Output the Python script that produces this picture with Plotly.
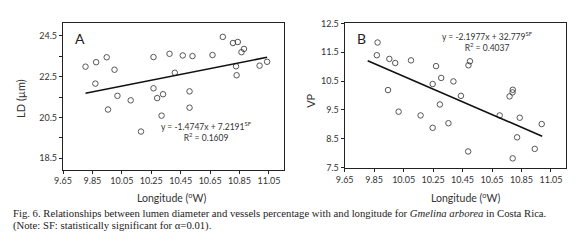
import plotly.graph_objects as go

# ---- data ----
a_lon = [9.803, 9.870, 9.875, 9.947, 9.956, 10.000, 10.020, 10.110, 10.180, 10.265,
         10.265, 10.290, 10.330, 10.320, 10.374, 10.410, 10.464, 10.530, 10.510, 10.510,
         10.666, 10.736, 10.805, 10.838, 10.863, 10.880, 10.826, 10.830, 10.986, 11.037]
a_ld = [22.99, 22.16, 23.21, 23.45, 20.89, 22.84, 21.56, 21.34, 19.81, 23.46,
        21.93, 21.45, 21.64, 20.59, 23.62, 22.69, 23.54, 23.51, 21.78, 20.98,
        23.56, 24.45, 24.15, 24.20, 23.70, 23.86, 23.01, 22.57, 23.04, 23.23]
a_trend_x = [9.803, 11.037]
a_trend_y = [21.69, 23.45]

b_lon = [9.873, 9.868, 9.953, 9.993, 9.944, 10.016, 10.100, 10.165, 10.270, 10.247,
         10.247, 10.305, 10.296, 10.354, 10.388, 10.439, 10.490, 10.500, 10.488, 10.702,
         10.769, 10.789, 10.791, 10.790, 10.820, 10.838, 10.940, 10.987]
b_vp = [11.84, 11.40, 11.27, 11.13, 10.19, 9.44, 11.22, 9.31, 11.02, 10.40,
        8.88, 10.61, 9.69, 9.04, 10.49, 9.99, 11.05, 11.19, 8.06, 9.31,
        9.97, 10.11, 10.20, 7.82, 8.55, 9.23, 8.15, 9.01]
b_trend_x = [9.806, 10.990]
b_trend_y = [11.21, 8.59]

x_ticks = [9.65, 9.85, 10.05, 10.25, 10.45, 10.65, 10.85, 11.05]
x_ticktext = ["9.65", "9.85", "10.05", "10.25", "10.45", "10.65", "10.85", "11.05"]
a_yticks = [18.5, 19.5, 20.5, 21.5, 22.5, 23.5, 24.5]
a_yticktext = ["18.5", "", "20.5", "", "22.5", "", "24.5"]
b_yticks = [7.5, 8.5, 9.5, 10.5, 11.5, 12.5]
b_yticktext = ["7.5", "8.5", "9.5", "10.5", "11.5", "12.5"]

# ---- layout helpers (pixel -> paper) ----
W, H = 580, 245
ML, MR, MT, MB = 55, 22, 9, 83
PW, PH = W - ML - MR, H - MT - MB


def px(x):
    return (x - ML) / PW


def py(y):
    return (H - MB - y) / PH


fig = go.Figure()
mk = dict(symbol="circle-open", size=5.5, color="#444", line=dict(width=0.9, color="#444"))
fig.add_trace(go.Scatter(x=a_lon, y=a_ld, mode="markers", marker=mk, xaxis="x", yaxis="y", showlegend=False))
fig.add_trace(go.Scatter(x=a_trend_x, y=a_trend_y, mode="lines", line=dict(color="#111", width=1.6),
                         xaxis="x", yaxis="y", showlegend=False))
fig.add_trace(go.Scatter(x=b_lon, y=b_vp, mode="markers", marker=mk, xaxis="x2", yaxis="y2", showlegend=False))
fig.add_trace(go.Scatter(x=b_trend_x, y=b_trend_y, mode="lines", line=dict(color="#111", width=1.6),
                         xaxis="x2", yaxis="y2", showlegend=False))

tickfont = dict(family="Lato, sans-serif", size=9, color="#333")
axcommon = dict(showgrid=False, zeroline=False, showline=True, linecolor="#222", linewidth=1.3,
                mirror=True, ticks="outside", ticklen=3, tickwidth=1, tickcolor="#222",
                tickfont=tickfont, tickmode="array")

fig.update_layout(
    width=W, height=H,
    margin=dict(l=ML, r=MR, t=MT, b=MB, pad=0),
    paper_bgcolor="white", plot_bgcolor="white",
    xaxis=dict(domain=[0, px(276)], range=[9.65, 11.152], tickvals=x_ticks, ticktext=x_ticktext,
               anchor="y", **axcommon),
    yaxis=dict(domain=[py(161.5), 1], range=[17.95, 25.13], tickvals=a_yticks, ticktext=a_yticktext,
               anchor="x", **axcommon),
    xaxis2=dict(domain=[px(336.7), 1], range=[9.65, 11.152], tickvals=x_ticks, ticktext=x_ticktext,
                anchor="y2", **axcommon),
    yaxis2=dict(domain=[py(159.5), py(9.5)], range=[7.5, 12.5], tickvals=b_yticks, ticktext=b_yticktext,
                anchor="x2", **axcommon),
)

ann = []


def add(text, x, y, size, family="Lato, sans-serif", color="#333", xanchor="center", yanchor="middle",
        textangle=0, align="center"):
    ann.append(dict(text=text, x=px(x), y=py(y), xref="paper", yref="paper", showarrow=False,
                    font=dict(family=family, size=size, color=color), xanchor=xanchor, yanchor=yanchor,
                    textangle=textangle, align=align))


add("A", 65, 25, 14, color="#222", xanchor="left")
add("B", 347, 25, 14, color="#222", xanchor="left")
add("y = -1.4747x + 7.2191<sup>SF</sup><br>R<sup>2</sup> = 0.1609", 198, 122, 8.5)
add("y = -2.1977x + 32.779<sup>SF</sup><br>R<sup>2</sup> = 0.4037", 479, 28.5, 8.5)
add("LD (µm)", 13, 88, 11, textangle=-90)
add("VP", 303, 90, 11, textangle=-90)
add("Longitude (<sup>o</sup>W)", 163, 191, 10.5)
add("Longitude (<sup>o</sup>W)", 457, 191, 10.5)
add("Fig. 6. Relationships between lumen diameter and vessels percentage with and longitude for <i>Gmelina arborea</i> in Costa Rica.",
    3, 206.5, 10.7, family="Liberation Serif, serif", color="#222", xanchor="left")
add("(Note: SF: statistically significant for α=0.01).",
    3, 219.5, 10.7, family="Liberation Serif, serif", color="#222", xanchor="left")
fig.update_layout(annotations=ann)

fig.write_html("out.html")
